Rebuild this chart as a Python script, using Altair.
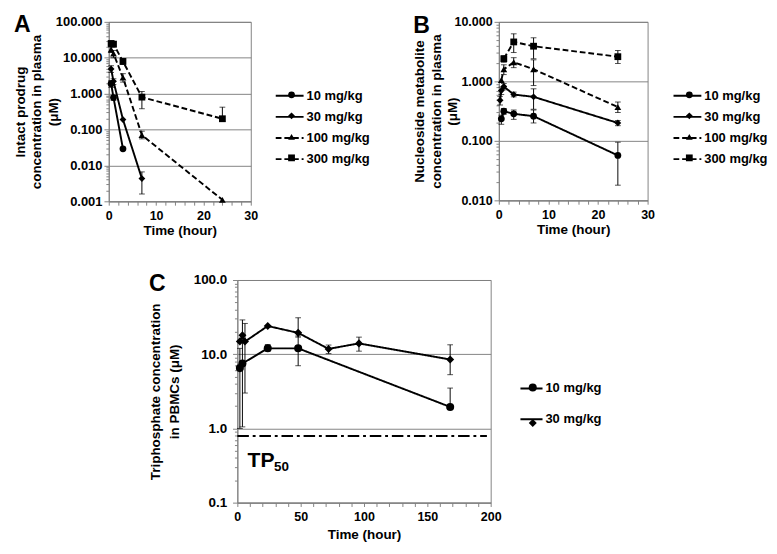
import altair as alt
import pandas as pd

FONT = "Liberation Sans"
GRAY = "#808080"

doses4 = ["10 mg/kg", "30 mg/kg", "100 mg/kg", "300 mg/kg"]
doses2 = ["10 mg/kg", "30 mg/kg"]

# ---------------- Panel A: intact prodrug ----------------
a10_t = [0.5, 1, 3]
a10_v = [1.9, 0.78, 0.029]
a10_lo = [1.5, 0.65, None]
a10_hi = [2.3, 0.9, None]

a30_t = [0.5, 1, 3, 7]
a30_v = [4.9, 2.2, 0.19, 0.0043]
a30_lo = [3.9, 1.8, None, 0.0016]
a30_hi = [6.0, 2.6, None, 0.0066]

a100_t = [0.5, 1, 3, 7, 24]
a100_v = [17, 13, 2.8, 0.07, 0.0011]
a100_lo = [14, 10, 2.1, 0.055, None]
a100_hi = [20, 16, 3.6, 0.09, None]

a300_t = [0.5, 1, 3, 7, 24]
a300_v = [25, 24, 7.9, 0.8, 0.2]
a300_lo = [21, 20, 6.5, 0.38, 0.17]
a300_hi = [29, 28, 9.5, 1.15, 0.42]

# ---------------- Panel B: nucleoside metabolite ----------------
b10_t = [0.5, 1, 3, 7, 24]
b10_v = [0.235, 0.315, 0.285, 0.26, 0.057]
b10_lo = [0.19, 0.28, 0.23, 0.2, 0.018]
b10_hi = [0.27, 0.35, 0.33, 0.33, 0.095]

b30_t = [0.25, 0.5, 1, 3, 7, 24]
b30_v = [0.48, 0.7, 0.82, 0.6, 0.55, 0.2]
b30_lo = [0.4, 0.6, 0.72, 0.55, 0.34, 0.18]
b30_hi = [0.56, 0.8, 0.92, 0.66, 0.75, 0.22]

b100_t = [0.5, 1, 3, 7, 24]
b100_v = [1.05, 1.6, 2.1, 1.6, 0.37]
b100_lo = [None, 1.3, 1.7, 0.85, 0.3]
b100_hi = [None, 1.9, 2.5, 2.3, 0.45]

b300_t = [1, 3, 7, 24]
b300_v = [2.4, 4.6, 3.9, 2.6]
b300_lo = [2.1, 3.05, 2.4, 2.0]
b300_hi = [2.7, 6.3, 5.4, 3.3]

# ---------------- Panel C: triphosphate in PBMCs ----------------
c10_t = [2, 4, 24, 48, 168]
c10_v = [6.5, 7.5, 12, 12, 1.95]
c10_lo = [1.0, None, 11, 7.0, 1.95]
c10_hi = [12, None, 13.5, 17.6, 3.5]

c30_t = [2, 4, 6, 24, 48, 72, 96, 168]
c30_v = [14.9, 18, 14.8, 24, 19.4, 11.8, 14, 8.5]
c30_lo = [None, 1.05, 3.0, None, 17, 10.2, 11, 5.3]
c30_hi = [None, 29, 26, None, 31, 13.3, 17, 13.4]

tp50_value = [0.79]
tp50_x0 = [0]
tp50_x1 = [197]
tp_text = ["TP", "50"]
tp_text_t = [8, 29]
tp_text_v = [0.37, 0.30]
tp_text_size = [22, 14]

DASHES4 = [[1, 0], [1, 0], [6, 3], [6, 3]]
SHAPES4 = ["circle", "diamond", "triangle-up", "square"]


def build(series):
    rows = []
    for dose, t, v, lo, hi in series:
        for i in range(len(t)):
            rows.append({"dose": dose, "dose2": dose + " ", "t": t[i],
                         "v": v[i], "lo": lo[i], "hi": hi[i]})
    return pd.DataFrame(rows)


dfA = build([(doses4[0], a10_t, a10_v, a10_lo, a10_hi),
             (doses4[1], a30_t, a30_v, a30_lo, a30_hi),
             (doses4[2], a100_t, a100_v, a100_lo, a100_hi),
             (doses4[3], a300_t, a300_v, a300_lo, a300_hi)])
dfB = build([(doses4[0], b10_t, b10_v, b10_lo, b10_hi),
             (doses4[1], b30_t, b30_v, b30_lo, b30_hi),
             (doses4[2], b100_t, b100_v, b100_lo, b100_hi),
             (doses4[3], b300_t, b300_v, b300_lo, b300_hi)])
dfC = build([(doses2[0], c10_t, c10_v, c10_lo, c10_hi),
             (doses2[1], c30_t, c30_v, c30_lo, c30_hi)])

DEC = "abs(log(datum.value)/LN10 - round(log(datum.value)/LN10)) < 0.001"


def log_values(lo_exp, hi_exp):
    vals = []
    for e in range(lo_exp, hi_exp):
        for m in range(1, 10):
            vals.append(round(m * 10 ** e, 6))
    vals.append(round(10 ** hi_exp, 6))
    return vals


def panel(df, doses, dashes, shapes, xmax, xminor, xmajor, ylo, yhi, yfmt,
          ytitle, letter, w, h, title_pad, title_lh, lx, ly, sym_len,
          line_rowpad, pt_size, shape_ly, shape_rowpad,
          x_lab_pad, x_title_pad, y_lab_size, y_lab_pad, extra=None):
    xs = alt.Scale(domain=[0, xmax], nice=False)
    ys = alt.Scale(type="log", domain=[10 ** ylo, 10 ** yhi], nice=False)
    xaxis = alt.Axis(
        title="Time (hour)",
        values=list(range(0, xmax + 1, xminor)),
        labelExpr=f"datum.value % {xmajor} == 0 ? datum.label : ''",
        grid=False, tickSize=4, labelPadding=x_lab_pad, labelOverlap=False,
        labelFlush=False, titlePadding=x_title_pad,
    )
    yaxis = alt.Axis(
        title=ytitle,
        values=log_values(ylo, yhi),
        labelExpr=f"{DEC} ? format(datum.value, '{yfmt}') : ''",
        tickSize={"condition": {"test": DEC, "value": 5}, "value": 3},
        grid=True, gridColor=GRAY,
        gridOpacity={"condition": {"test": DEC, "value": 1}, "value": 0},
        labelPadding=y_lab_pad, labelFontSize=y_lab_size,
        labelOverlap=False, labelFlush=False,
        titlePadding=title_pad, titleLineHeight=title_lh,
    )

    def X(f):
        return alt.X(f, type="quantitative", scale=xs, axis=xaxis)

    def Y(f):
        return alt.Y(f, type="quantitative", scale=ys, axis=yaxis)

    base = alt.Chart(df)
    line = base.mark_line(color="black", strokeWidth=2).encode(
        x=X("t"), y=Y("v"),
        strokeDash=alt.StrokeDash(
            "dose:N",
            scale=alt.Scale(domain=doses, range=dashes),
            legend=alt.Legend(
                title=None, orient="none", legendX=lx, legendY=ly,
                symbolType="stroke", symbolSize=sym_len ** 2,
                symbolStrokeWidth=2, symbolStrokeColor="black",
                labelFont=FONT, labelFontSize=13.5, labelFontWeight="bold",
                labelColor="black", labelOffset=2, rowPadding=line_rowpad,
                padding=0,
            ),
        ),
    )
    err = base.transform_filter("isValid(datum.lo)")
    rule = err.mark_rule(color="black", strokeWidth=1).encode(
        x=X("t"), y=Y("lo"), y2="hi")
    cap_lo = err.mark_tick(orient="horizontal", size=6, thickness=1,
                           color="black").encode(x=X("t"), y=Y("lo"))
    cap_hi = err.mark_tick(orient="horizontal", size=6, thickness=1,
                           color="black").encode(x=X("t"), y=Y("hi"))
    r = pt_size ** 0.5 / 2
    pts = base.mark_point(filled=True, color="black", size=pt_size,
                          opacity=1).encode(
        x=X("t"), y=Y("v"),
        shape=alt.Shape(
            "dose2:N",
            scale=alt.Scale(domain=[d + " " for d in doses], range=shapes),
            legend=alt.Legend(
                title=None, orient="none", legendX=lx + sym_len / 2 - r,
                legendY=shape_ly, symbolSize=pt_size,
                symbolFillColor="black", symbolStrokeColor="black",
                symbolStrokeWidth=0.5, labelExpr="''", labelFontSize=13,
                rowPadding=shape_rowpad, padding=0,
            ),
        ),
    )
    layers = [rule, cap_lo, cap_hi, line, pts]
    if extra is not None:
        layers += extra(X, Y)
    return alt.layer(*layers).properties(
        width=w, height=h,
        title=alt.TitleParams(text=letter, anchor="start", frame="bounds",
                              fontSize=24, font=FONT, fontWeight="bold",
                              color="black", offset=-23),
        view=alt.ViewBackground(stroke=GRAY, strokeWidth=1),
    )


def tp_layers(X, Y):
    tpdf = pd.DataFrame({"x": tp50_x0, "x2": tp50_x1, "y": tp50_value})
    tp_rule = alt.Chart(tpdf).mark_rule(
        color="black", strokeWidth=2, strokeDash=[12, 4, 3, 4]).encode(
        x=X("x"), x2="x2", y=Y("y"))
    tdf = pd.DataFrame({"t": tp_text_t, "v": tp_text_v, "txt": tp_text})
    big = alt.Chart(tdf.iloc[[0]]).mark_text(
        align="left", baseline="middle", fontSize=tp_text_size[0],
        font=FONT, fontWeight="bold", color="black").encode(
        x=X("t"), y=Y("v"), text="txt:N")
    small = alt.Chart(tdf.iloc[[1]]).mark_text(
        align="left", baseline="middle", fontSize=tp_text_size[1],
        font=FONT, fontWeight="bold", color="black").encode(
        x=X("t"), y=Y("v"), text="txt:N")
    return [tp_rule, big, small]


A = panel(dfA, doses4, DASHES4, SHAPES4, 30, 2, 10, -3, 2, ".3f",
          ["Intact prodrug", "concentration in plasma", "(μM)"], "A",
          148, 187, -5, 17, 173, 61.5, 29, -8.1, 50, 69.5, 7.9,
          5, 2, 13.5, 2)
B = panel(dfB, doses4, DASHES4, SHAPES4, 30, 2, 10, -2, 1, ".3f",
          ["Nucleoside metabolite", "concentration in plasma", "(μM)"], "B",
          155, 186, -5.5, 17, 181, 61.5, 29, -8.1, 50, 69.5, 7.9,
          5, 2, 13, 2)
C = panel(dfC, doses2, [[1, 0], [1, 0]], ["circle", "diamond"], 200, 10, 50,
          -1, 2, ".1f",
          ["Triphosphate concentration", "in PBMCs (μM)"], "C",
          264, 232, 12, 20, 294, 100.5, 23, 13, 70, 105.5, 23,
          5, 4, 14, 6, extra=tp_layers)

spacer = alt.Chart(pd.DataFrame({"s": [0]})).mark_point(opacity=0).properties(
    width=40, height=10,
    view=alt.ViewBackground(stroke="transparent"))

top = alt.hconcat(A, B, spacing=42.5).resolve_scale(
    strokeDash="independent", shape="independent")
bottom = alt.hconcat(spacer, C, spacing=0).resolve_scale(
    strokeDash="independent", shape="independent")
chart = alt.vconcat(top, bottom, spacing=34).resolve_scale(
    strokeDash="independent", shape="independent"
).properties(
    padding={"left": 5, "top": -6, "right": 0, "bottom": 0}
).configure_axis(
    domainColor=GRAY, tickColor=GRAY,
    labelFont=FONT, labelFontSize=13, labelFontWeight="bold", labelColor="black",
    titleFont=FONT, titleFontSize=14, titleFontWeight="bold", titleColor="black",
).configure_legend(labelFont=FONT)

chart.save("out.html", embed_options={"renderer": "svg", "actions": False})
